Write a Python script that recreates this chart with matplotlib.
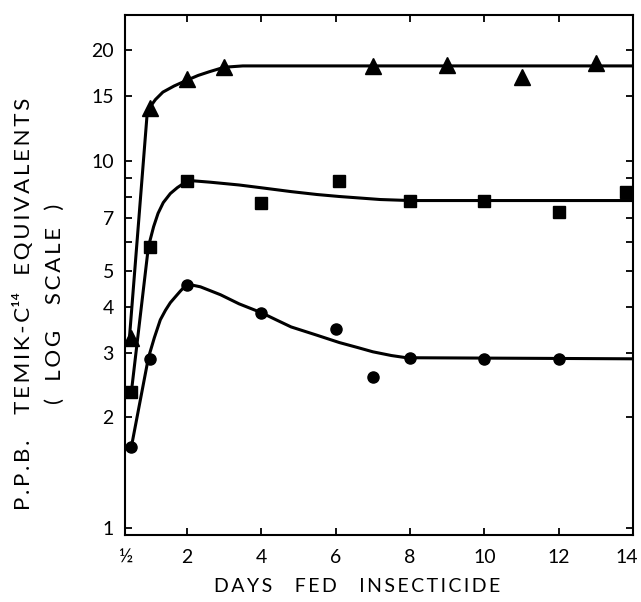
import matplotlib
matplotlib.use("Agg")
import matplotlib.pyplot as plt
import matplotlib.transforms as mtransforms
from matplotlib.ticker import FixedLocator, NullFormatter, NullLocator

plt.rcParams['font.family'] = ['Lato', 'DejaVu Sans']

# measured points (days, ppb)
tri_x = [0.5, 1, 2, 3, 7, 9, 11, 13]
tri_y = [3.3, 13.9, 16.7, 18.0, 18.1, 18.2, 16.9, 18.5]
sq_x = [0.5, 1, 2, 4, 6.1, 8, 10, 12, 13.8]
sq_y = [2.34, 5.84, 8.8, 7.7, 8.8, 7.8, 7.8, 7.28, 8.25]
ci_x = [0.5, 1, 2, 4, 6, 7, 8, 10, 12]
ci_y = [1.66, 2.89, 4.6, 3.86, 3.49, 2.58, 2.91, 2.89, 2.89]

# hand-drawn fitted curves
tri_cx = [0.45, 0.92, 1.0, 1.15, 1.35, 1.65, 2.0, 2.3, 2.6, 3.0, 3.5, 14]
tri_cy = [3.3, 13.2, 14.0, 14.7, 15.4, 16.0, 16.6, 17.1, 17.5, 18.0, 18.15, 18.15]
sq_cx = [0.5, 0.96, 1.1, 1.22, 1.36, 1.55, 1.74, 2.03, 2.63, 3.4, 4.0, 4.8, 5.5, 6.1, 7.2, 8.0, 14]
sq_cy = [2.34, 5.84, 6.62, 7.2, 7.7, 8.15, 8.46, 8.85, 8.75, 8.6, 8.45, 8.25, 8.1, 8.0, 7.85, 7.8, 7.8]
ci_cx = [0.5, 0.96, 1.12, 1.28, 1.42, 1.55, 1.7, 1.82, 2.0, 2.36, 2.9, 3.4, 4.0, 4.4, 4.8, 5.5, 6.1, 6.6, 7.0, 7.5, 7.9, 14]
ci_cy = [1.66, 2.91, 3.3, 3.69, 3.92, 4.11, 4.28, 4.42, 4.62, 4.54, 4.32, 4.08, 3.86, 3.69, 3.53, 3.35, 3.2, 3.1, 3.02, 2.95, 2.91, 2.89]

ytick_vals = [1, 2, 3, 4, 5, 7, 10, 15, 20]
ytick_minor = [6, 8, 9]
xtick_vals = [0.5, 2, 4, 6, 8, 10, 12, 14]
xtick_labels = ['½', '2', '4', '6', '8', '10', '12', '14']


def spaced(text):
    # wide lettering of the original figure
    return '\u2009'.join(text).replace('\u2009 \u2009', '   ')


fig = plt.figure(figsize=(6.41, 6.02), dpi=100)
ax = fig.add_axes([0.195, 0.1113, 0.7925, 0.864])

for cx, cy in [(tri_cx, tri_cy), (sq_cx, sq_cy), (ci_cx, ci_cy)]:
    ax.plot(cx, cy, color='black', lw=2.2, solid_capstyle='round', solid_joinstyle='round')

ax.plot(tri_x, tri_y, ls='none', marker='^', ms=11, color='black')
ax.plot(sq_x, sq_y, ls='none', marker='s', ms=8.5, color='black')
ax.plot(ci_x, ci_y, ls='none', marker='o', ms=8, color='black')

ax.set_yscale('log')
ax.set_ylim(0.957, 25)
ax.set_xlim(0.33, 14)

ax.yaxis.set_major_locator(FixedLocator(ytick_vals))
ax.yaxis.set_minor_locator(FixedLocator(ytick_minor))
ax.yaxis.set_minor_formatter(NullFormatter())
ax.set_yticklabels([str(v) for v in ytick_vals])
ax.set_xticks(xtick_vals)
ax.set_xticklabels(xtick_labels)
ax.xaxis.set_minor_locator(NullLocator())

ax.tick_params(axis='both', which='both', direction='in', length=5, width=1.3,
               top=True, right=True, labelsize=14, colors='black')
ax.tick_params(axis='y', pad=8)
ax.tick_params(axis='x', pad=10)
# no tick mark at the ½ position and the corner 14
for t in (ax.xaxis.get_major_ticks()[0], ax.xaxis.get_major_ticks()[-1]):
    t.tick1line.set_visible(False)
    t.tick2line.set_visible(False)
shift = mtransforms.ScaledTranslation(-6 / 100, 0, fig.dpi_scale_trans)
for lab in (ax.get_xticklabels()[0], ax.get_xticklabels()[-1]):
    lab.set_transform(lab.get_transform() + shift)

for s in ax.spines.values():
    s.set_linewidth(1.5)

fig.text(0.557, 0.012, spaced('DAYS  FED  INSECTICIDE'), ha='center', va='bottom',
         fontsize=14)
fig.text(0.036, 0.495, spaced('P.P.B.  TEMIK-C') + '¹⁴' + '   ' + spaced('EQUIVALENTS'),
         rotation=90, ha='center', va='center', fontsize=16)
fig.text(0.085, 0.495, spaced('( LOG  SCALE )'), rotation=90,
         ha='center', va='center', fontsize=16)

fig.savefig('out.png', dpi=100)
